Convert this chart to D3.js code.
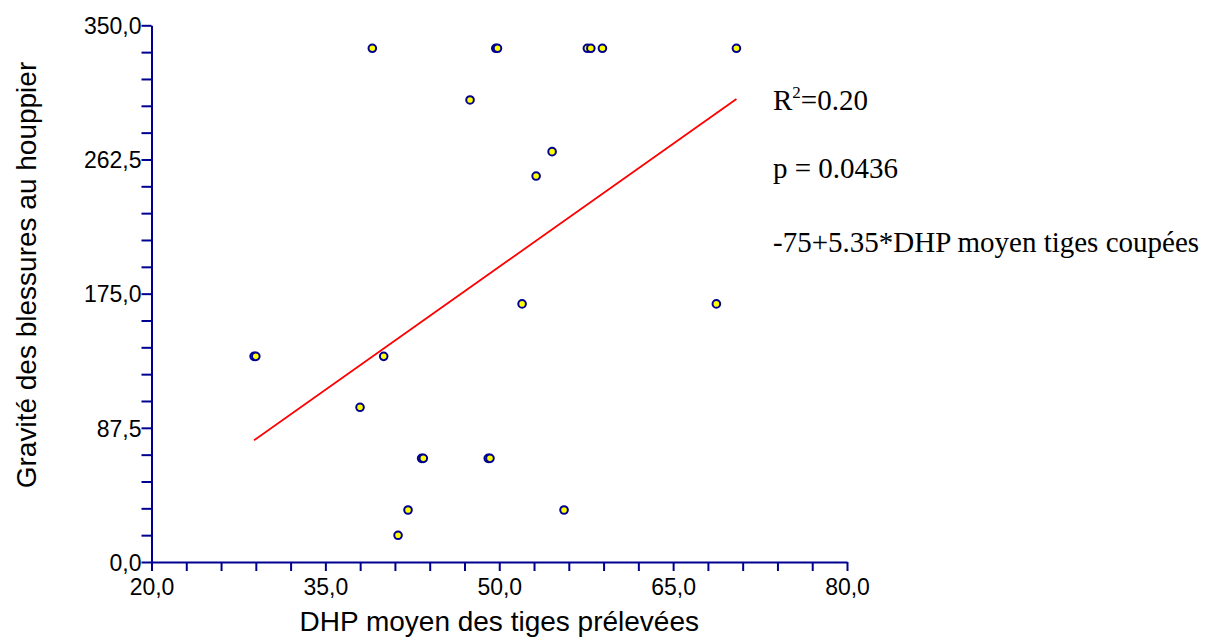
<!DOCTYPE html>
<html>
<head>
<meta charset="utf-8">
<script src="https://cdn.jsdelivr.net/npm/d3@7"></script>
<style>
  html, body { margin: 0; padding: 0; background: #fff; }
  svg { display: block; }
</style>
</head>
<body>
<svg id="chart" width="1232" height="641"></svg>
<script>
// ---- data ----
const dhpValues = [39.05, 49.7, 49.85, 57.6, 57.9, 58.9, 70.46, 47.48, 54.56, 53.18, 51.97, 68.73, 28.85, 29.0, 40.03, 37.99, 43.3, 43.45, 49.05, 49.2, 42.13, 55.59, 41.27];
const graviteValues = [335.0, 335.0, 335.0, 335.0, 335.0, 335.0, 335.0, 301.3, 267.6, 251.7, 168.3, 168.3, 134.1, 134.1, 134.1, 100.9, 67.6, 67.6, 67.6, 67.6, 33.9, 33.9, 17.4];
const xMajorTicks = [20, 35, 50, 65, 80];
const xMinorTicks = [23, 26, 29, 32, 38, 41, 44, 47, 53, 56, 59, 62, 68, 71, 74, 77];
const yMajorTicks = [0, 87.5, 175, 262.5, 350];
const yMinorTicks = [17.5, 35, 52.5, 70, 105, 122.5, 140, 157.5, 192.5, 210, 227.5, 245, 280, 297.5, 315, 332.5];
const regression = [-75, 5.35];   // intercept, slope
const statLabels = ["R", "=0.20", "p = 0.0436", "-75+5.35*DHP moyen tiges coupées"];
const xTitle = "DHP moyen des tiges prélevées";
const yTitle = "Gravité des blessures au houppier";

// ---- layout ----
const svg = d3.select("#chart");
const axisColor = "#000090";
const x = d3.scaleLinear().domain([20, 80]).range([151.5, 847]);
const y = d3.scaleLinear().domain([0, 350]).range([562, 25.3]);
const fmt = v => d3.format(".1f")(v).replace(".", ",");

function styleAxis(g) {
  g.select(".domain").attr("stroke", axisColor).attr("stroke-width", 2);
  g.selectAll(".tick line").attr("stroke", axisColor).attr("stroke-width", 2);
  g.selectAll(".tick text").attr("fill", "#000")
    .style("font-family", "'Liberation Sans', Arial, sans-serif").style("font-size", "23px");
}

// x axis
const gxMinor = svg.append("g").attr("transform", `translate(0,${y(0)})`)
  .call(d3.axisBottom(x).tickValues(xMinorTicks).tickSize(9).tickFormat(""));
styleAxis(gxMinor);
gxMinor.select(".domain").remove();
const gx = svg.append("g").attr("transform", `translate(0,${y(0)})`)
  .call(d3.axisBottom(x).tickValues(xMajorTicks).tickSize(9).tickSizeOuter(0).tickPadding(3).tickFormat(fmt));
styleAxis(gx);
gx.selectAll(".tick text").attr("dy", "0.92em");

// y axis
const gyMinor = svg.append("g").attr("transform", `translate(${x(20)},0)`)
  .call(d3.axisLeft(y).tickValues(yMinorTicks).tickSize(10).tickFormat(""));
styleAxis(gyMinor);
gyMinor.select(".domain").remove();
const gy = svg.append("g").attr("transform", `translate(${x(20)},0)`)
  .call(d3.axisLeft(y).tickValues(yMajorTicks).tickSize(10).tickSizeOuter(0).tickPadding(0).tickFormat(fmt));
styleAxis(gy);
gy.selectAll(".tick text").attr("dy", "0.36em");

// regression line
const xMin = d3.min(dhpValues), xMax = d3.max(dhpValues);
const lineData = [xMin, xMax].map(v => [v, regression[0] + regression[1] * v]);
svg.append("path")
  .datum(lineData)
  .attr("d", d3.line().x(d => x(d[0])).y(d => y(d[1])))
  .attr("fill", "none").attr("stroke", "#ff0000").attr("stroke-width", 1.8);

// points
svg.append("g").selectAll("circle")
  .data(dhpValues.map((v, i) => [v, graviteValues[i]]))
  .join("circle")
  .attr("cx", d => x(d[0])).attr("cy", d => y(d[1]))
  .attr("r", 3.8)
  .attr("fill", "#ffff00").attr("stroke", "#000090").attr("stroke-width", 2);

// stats text
const serif = "'Liberation Serif', 'Times New Roman', serif";
const t1 = svg.append("text").attr("x", 773).attr("y", 110)
  .style("font-family", serif).style("font-size", "29px").attr("fill", "#000");
t1.append("tspan").text(statLabels[0]);
t1.append("tspan").attr("dy", -12).style("font-size", "17px").text("2");
t1.append("tspan").attr("dy", 12).text(statLabels[1]);
svg.append("text").attr("x", 773).attr("y", 178)
  .style("font-family", serif).style("font-size", "29px").attr("fill", "#000").text(statLabels[2]);
svg.append("text").attr("x", 773).attr("y", 252)
  .style("font-family", serif).style("font-size", "29px").attr("fill", "#000").text(statLabels[3]);

// axis titles
svg.append("text").attr("x", x(50)).attr("y", 631).attr("text-anchor", "middle")
  .style("font-family", "'Liberation Sans', Arial, sans-serif").style("font-size", "28px")
  .attr("fill", "#000").text(xTitle);
svg.append("text").attr("transform", "translate(36,275) rotate(-90)").attr("text-anchor", "middle")
  .style("font-family", "'Liberation Sans', Arial, sans-serif").style("font-size", "28px")
  .attr("fill", "#000").text(yTitle);
</script>
</body>
</html>
